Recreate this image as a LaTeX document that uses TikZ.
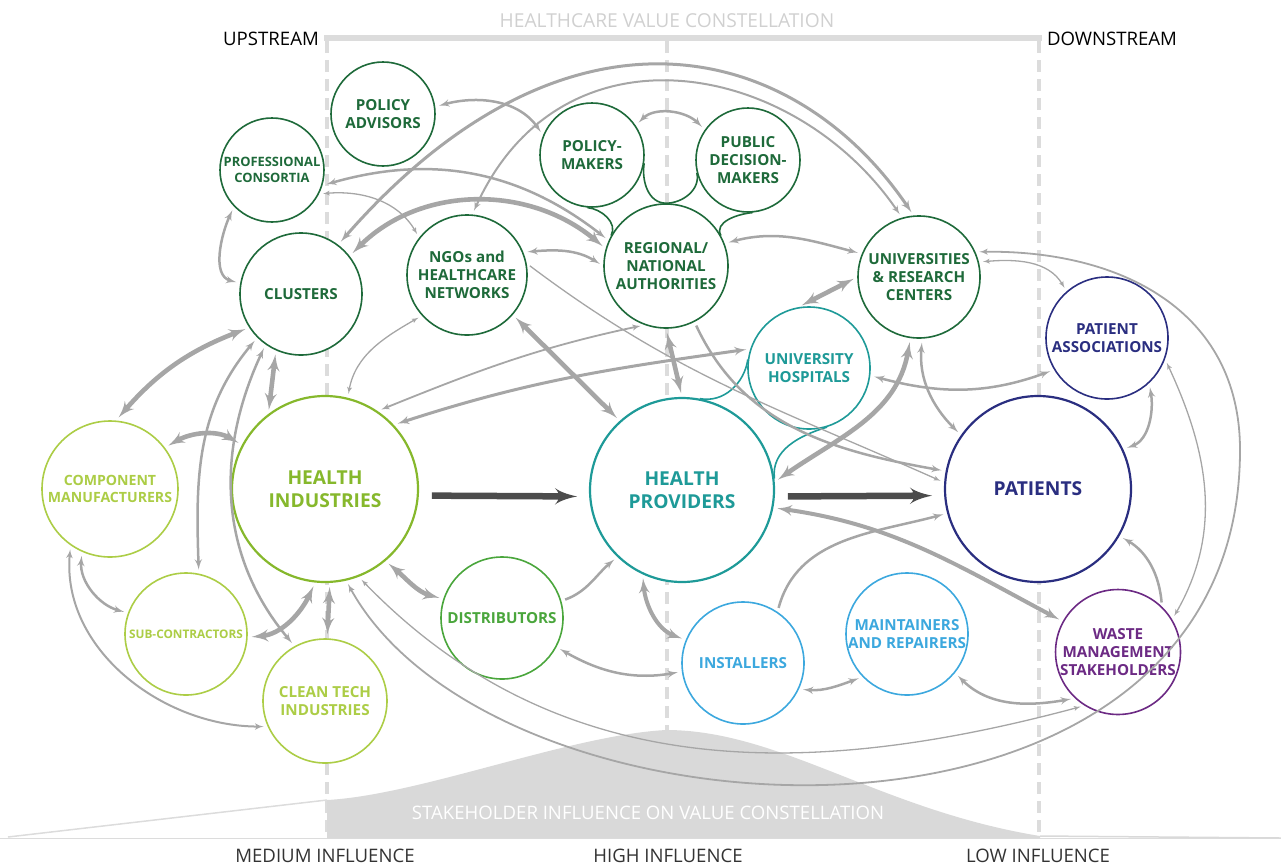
\documentclass[tikz,border=0pt]{standalone}
\usepackage{fontspec}
\setmainfont{Open Sans}
\usetikzlibrary{shapes,arrows,calc}
\definecolor{greenDark}{RGB}{30,106,58}
\definecolor{greenHI}{RGB}{134,184,44}
\definecolor{greenLight}{RGB}{172,205,70}
\definecolor{greenDist}{RGB}{74,166,60}
\definecolor{tealHP}{RGB}{30,154,152}
\definecolor{blueInst}{RGB}{60,168,222}
\definecolor{navyPat}{RGB}{42,46,128}
\definecolor{purpleWaste}{RGB}{108,42,132}
\definecolor{arrowGray}{RGB}{166,166,166}
\definecolor{flowGray}{RGB}{76,76,76}
\definecolor{frameGray}{RGB}{220,220,220}
\definecolor{curveGray}{RGB}{217,217,217}
\definecolor{titleGray}{RGB}{208,208,208}
\tikzstyle{actor} = [draw, circle, fill=white, line width=1.6pt, inner sep=0pt, align=center, font=\bfseries\fontsize{15.2}{18.2}\selectfont]
\tikzstyle{hub} = [actor, line width=2.2pt, font=\bfseries\fontsize{19.2}{23}\selectfont]
\tikzstyle{neck} = [line width=1.6pt]
\tikzstyle{link} = [draw, latex'-latex', arrowGray, line width=2.5pt, shorten <=4pt, shorten >=4pt]
\tikzstyle{weaklink} = [link, line width=1.3pt]
\tikzstyle{stronglink} = [link, line width=4.6pt]
\tikzstyle{flow} = [draw, -latex', flowGray, line width=6.5pt, shorten <=13pt, shorten >=12pt]
\tikzstyle{guide} = [frameGray, line width=4pt, dash pattern=on 12pt off 7pt]
\tikzstyle{banner} = [font=\fontsize{18.6}{22}\selectfont]
\begin{document}
\begin{tikzpicture}[x=1pt, y=1pt]
    \useasboundingbox (0,0) rectangle (1281,-865);
        \draw[guide] (327,-41) -- (327,-838);
        \draw[guide] (667,-41) -- (667,-838);
        \draw[guide] (1039,-41) -- (1039,-838);
        \draw[frameGray, line width=6pt] (324,-38) -- (1042,-38);
        \draw[frameGray, line width=1.5pt] (0,-838.5) -- (1281,-838.5);
        \draw[frameGray, line width=1.5pt] (8,-837) -- (327,-800);
        \fill[curveGray] (327,-838) -- (327,-800) .. controls (420,-795) and (570,-735) .. (666,-730) .. controls (780,-730) and (880,-810) .. (1040,-836) -- (1040,-838) -- cycle;
        \draw[curveGray, line width=1.5pt] (1040,-836) -- (1281,-838);
        \node[banner, titleGray, font=\fontsize{19.2}{22}\selectfont] (title) at (667,-21) {HEALTHCARE VALUE CONSTELLATION};
        \node[banner] (upstream) at (271,-39) {UPSTREAM};
        \node[banner] (downstream) at (1112,-39) {DOWNSTREAM};
        \node[banner, white] (influence) at (648,-813) {STAKEHOLDER INFLUENCE ON VALUE CONSTELLATION};
        \node[banner, black!80] (medium) at (325,-856) {MEDIUM INFLUENCE};
        \node[banner, black!80] (high) at (668,-856) {HIGH INFLUENCE};
        \node[banner, black!80] (low) at (1038,-856) {LOW INFLUENCE};
        \node[actor, draw=greenDark, text=greenDark, minimum size=104pt] (advisors) at (383,-114) {POLICY\\ADVISORS};
        \node[actor, draw=greenDark, text=greenDark, minimum size=104pt, font=\bfseries\fontsize{12.9}{16.5}\selectfont] (consortia) at (272,-170) {PROFESSIONAL\\CONSORTIA};
        \node[actor, draw=greenDark, text=greenDark, minimum size=122pt] (clusters) at (301,-294) {CLUSTERS};
        \node[actor, draw=greenDark, text=greenDark, minimum size=120pt] (ngos) at (467,-275) {NGOs and\\HEALTHCARE\\NETWORKS};
        \node[actor, draw=greenDark, text=greenDark, minimum size=104pt] (makers) at (592,-155) {POLICY-\\MAKERS};
        \node[actor, draw=greenDark, text=greenDark, minimum size=104pt] (deciders) at (748,-160) {PUBLIC\\DECISION-\\MAKERS};
        \node[actor, draw=greenDark, text=greenDark, minimum size=124pt] (authorities) at (666,-266) {REGIONAL/\\NATIONAL\\AUTHORITIES};
        \node[actor, draw=greenDark, text=greenDark, minimum size=122pt] (universities) at (919,-277) {UNIVERSITIES\\\& RESEARCH\\CENTERS};
        \node[actor, draw=navyPat, text=navyPat, minimum size=122pt] (associations) at (1107,-338) {PATIENT\\ASSOCIATIONS};
        \node[actor, draw=tealHP, text=tealHP, minimum size=122pt] (hospitals) at (809,-368) {UNIVERSITY\\HOSPITALS};
        \node[hub, draw=greenHI, text=greenHI, minimum size=186pt] (industries) at (325,-489) {HEALTH\\INDUSTRIES};
        \node[hub, draw=tealHP, text=tealHP, minimum size=184pt] (providers) at (682,-490) {HEALTH\\PROVIDERS};
        \node[hub, draw=navyPat, text=navyPat, minimum size=186pt] (patients) at (1038,-489) {PATIENTS};
        \node[actor, draw=greenLight, text=greenLight, minimum size=136pt, font=\bfseries\fontsize{14.1}{17.5}\selectfont] (components) at (110,-489) {COMPONENT\\MANUFACTURERS};
        \node[actor, draw=greenLight, text=greenLight, minimum size=122pt, font=\bfseries\fontsize{11.8}{15}\selectfont] (subcon) at (186,-634) {SUB-CONTRACTORS};
        \node[actor, draw=greenLight, text=greenLight, minimum size=124pt] (cleantech) at (325,-701) {CLEAN TECH\\INDUSTRIES};
        \node[actor, draw=greenDist, text=greenDist, minimum size=122pt] (distributors) at (502,-618) {DISTRIBUTORS};
        \node[actor, draw=blueInst, text=blueInst, minimum size=122pt] (installers) at (743,-663) {INSTALLERS};
        \node[actor, draw=blueInst, text=blueInst, minimum size=122pt] (repairers) at (907,-634) {MAINTAINERS\\AND REPAIRERS};
        \node[actor, draw=purpleWaste, text=purpleWaste, minimum size=124pt] (waste) at (1118,-652) {WASTE\\MANAGEMENT\\STAKEHOLDERS};
        \draw[greenDark, neck] (makers.-95) to[out=-5,in=61] (authorities.151);
        \draw[greenDark, neck] (makers.-9) to[out=-99,in=180] (authorities.north) to[out=0,in=-76] (deciders.194);
        \draw[greenDark, neck] (deciders.-85) to[out=185,in=119] (authorities.29);
        \draw[tealHP, neck] (hospitals.172) to[out=-98,in=-11] (providers.79);
        \draw[tealHP, neck] (providers.7) to[out=97,in=-163] (hospitals.-73);
        \path[link] (advisors.8) to[out=15,in=125] (makers.158);
        \path[link] (makers.34) to[out=45,in=135] (deciders.145);
        \path[link, line width=3pt] (clusters.53) .. controls (565,15) and (793,-38) .. (universities.95);
        \path[link, line width=2pt] (ngos.85) .. controls (562,-17) and (794,-60) .. (universities.106);
        \path[stronglink] (clusters.38) to[out=45,in=140] (authorities.164);
        \path[link] (consortia.-17) to[out=16,in=142] (authorities.156);
        \path[weaklink] (consortia.-27) to[out=5,in=120] (ngos.142);
        \path[link] (ngos.22) to[out=5,in=148] (authorities.180);
        \path[link] (authorities.21) to[out=15,in=165] (universities.158);
        \path[stronglink] (authorities.south) -- (providers.north);
        \path[stronglink] (ngos.-41) -- (providers.132);
        \path[stronglink] (hospitals.100) -- (universities.180);
        \path[link] (consortia.-136) to[out=-115,in=165] (clusters.170);
        \path[stronglink] (clusters.-114) -- (industries.127);
        \path[stronglink] (clusters.-147) to[out=-159,in=49] (components.85);
        \path[link] (clusters.-135) to[out=-130,in=92] (subcon.78);
        \path[link] (clusters.-125) to[out=-115,in=130] (cleantech.119);
        \path[stronglink] (components.37) to[out=30,in=150] (industries.152);
        \path[link] (components.-114) to[out=-95,in=165] (subcon.160);
        \path[link, line width=2pt] (components.-125) to[out=-95,in=180] (cleantech.-156);
        \path[stronglink] (industries.-96) to[out=-115,in=5] (subcon.-3);
        \path[stronglink] (industries.-87) -- (cleantech.88);
        \path[stronglink] (industries.-50) to[out=-40,in=165] (distributors.162);
        \path[weaklink] (industries.-69) to[out=-46,in=195] (waste.-122);
        \path[weaklink, line width=1.8pt] (industries.-77) .. controls (496,-854) and (1240,-890) .. (1240,-450) .. controls (1240,-310) and (1120,-250) .. (universities.24);
        \path[weaklink] (associations.-20) to[out=-65,in=60] (waste.31);
        \path[weaklink] (universities.14) to[out=5,in=120] (associations.131);
        \path[stronglink] (universities.-98) to[out=-100,in=35] (providers.5);
        \path[link] (universities.-87) to[out=-95,in=135] (patients.145);
        \path[link] (associations.-149) to[out=-160,in=-15] (hospitals.-7);
        \path[link] (associations.-47) to[out=-80,in=20] (patients.25);
        \path[link, -latex'] (waste.46) to[out=95,in=-30] (patients.-30);
        \path[stronglink, line width=4pt] (providers.-11) to[out=-8,in=152] (waste.151);
        \path[link, -latex'] (installers.56) to[out=75,in=-165] (patients.-165);
        \path[stronglink, line width=4pt] (providers.-115) to[out=-85,in=160] (installers.158);
        \path[link, -latex'] (distributors.16) to[out=20,in=-140] (providers.-134);
        \path[link] (distributors.-28) to[out=-30,in=-170] (installers.-172);
        \path[link] (installers.-25) to[out=-5,in=-160] (repairers.-136);
        \path[link] (repairers.-39) to[out=-45,in=-170] (waste.-133);
        \path[flow] (industries.-4) -- (providers.184);
        \path[flow] (providers.-4) -- (patients.184);
        \path[link, line width=3pt] (industries.43) to[out=18,in=-172] (hospitals.162);
        \path[weaklink, line width=1.8pt] (industries.56) to[out=22,in=-168] (authorities.-110);
        \path[weaklink] (ngos.-138) to[out=-150,in=80] (industries.76);
        \path[link, -latex'] (authorities.-63) to[out=-65,in=170] (patients.169);
        \path[weaklink, -latex'] (ngos.11) to[out=-37,in=156] (patients.176);
    \end{tikzpicture}
\end{document}
